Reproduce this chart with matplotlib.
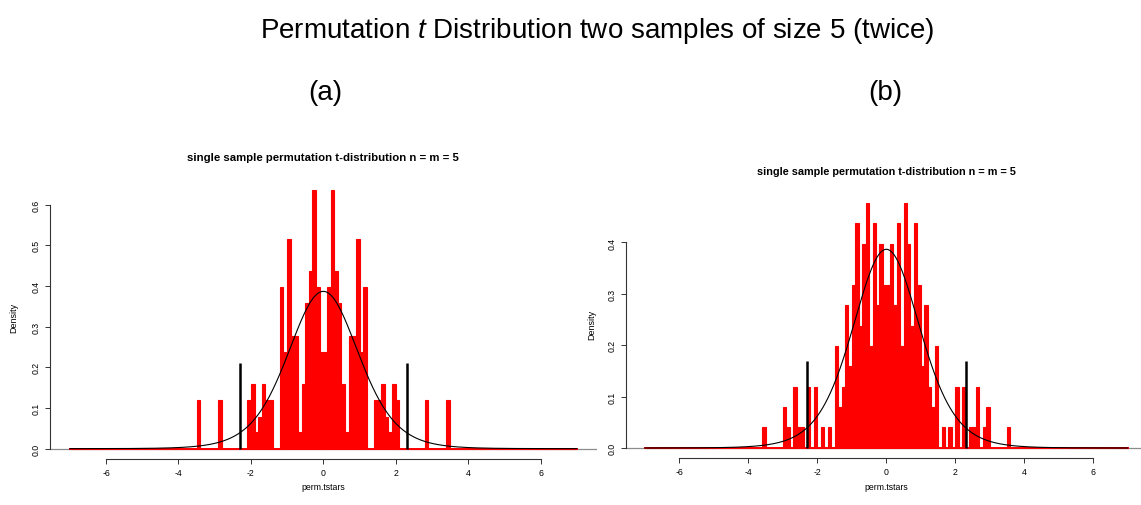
import math
import numpy as np
import matplotlib
matplotlib.use("Agg")
import matplotlib.pyplot as plt

plt.rcParams['font.family'] = ['Liberation Sans', 'DejaVu Sans']
plt.rcParams['mathtext.fontset'] = 'custom'
plt.rcParams['mathtext.it'] = 'Liberation Sans:italic'
plt.rcParams['mathtext.rm'] = 'Liberation Sans'
plt.rcParams['axes.unicode_minus'] = False

# histogram: bins of width 0.1 from -7 to 7, only non-empty bins listed
bin_width = 0.1
hist_lo, hist_hi = -7.0, 7.0

# (a) left bin edge -> density
a_lefts = [-3.5, -2.9, -2.1, -2.0, -1.9, -1.8, -1.7, -1.6, -1.5,
           -1.2, -1.1, -1.0, -0.9, -0.8, -0.7, -0.6, -0.5, -0.4, -0.3, -0.2, -0.1,
           0.0, 0.1, 0.2, 0.3, 0.4, 0.5, 0.6, 0.7, 0.8, 0.9, 1.0, 1.1,
           1.4, 1.5, 1.6, 1.7, 1.8, 1.9, 2.0, 2.8, 3.4]
a_density = [0.119, 0.119, 0.119, 0.159, 0.040, 0.079, 0.159, 0.119, 0.119,
             0.397, 0.238, 0.516, 0.278, 0.278, 0.040, 0.159, 0.357, 0.437, 0.635, 0.397, 0.238,
             0.238, 0.397, 0.635, 0.437, 0.357, 0.159, 0.040, 0.278, 0.278, 0.516, 0.238, 0.397,
             0.119, 0.119, 0.159, 0.079, 0.040, 0.159, 0.119, 0.119, 0.119]

# (b)
b_lefts = [-3.6, -3.0, -2.9, -2.7, -2.6, -2.5, -2.3, -2.1, -1.9, -1.7, -1.5, -1.4, -1.3,
           -1.2, -1.1, -1.0, -0.9, -0.8, -0.7, -0.6, -0.5, -0.4, -0.3, -0.2, -0.1,
           0.0, 0.1, 0.2, 0.3, 0.4, 0.5, 0.6, 0.7, 0.8, 0.9, 1.0, 1.1,
           1.2, 1.3, 1.4, 1.6, 1.8, 2.0, 2.2, 2.4, 2.5, 2.6, 2.8, 2.9, 3.5]
b_density = [0.040, 0.079, 0.040, 0.119, 0.040, 0.040, 0.119, 0.119, 0.040, 0.040, 0.198, 0.079, 0.119,
             0.278, 0.159, 0.317, 0.437, 0.238, 0.397, 0.476, 0.198, 0.437, 0.278, 0.397, 0.317,
             0.317, 0.397, 0.278, 0.437, 0.198, 0.476, 0.397, 0.238, 0.437, 0.317, 0.159, 0.278,
             0.119, 0.079, 0.198, 0.040, 0.040, 0.119, 0.119, 0.040, 0.040, 0.119, 0.040, 0.079, 0.040]

df = 8
t_crit = 2.306
a_crit_height = 0.21
b_crit_height = 0.17

W, H = 1141, 506


def px_axes(fig, x0, x1, ytop, ybot):
    return fig.add_axes([x0 / W, 1 - ybot / H, (x1 - x0) / W, (ybot - ytop) / H])


def t_pdf(x, k):
    c = math.exp(math.lgamma((k + 1) / 2) - math.lgamma(k / 2)) / math.sqrt(k * math.pi)
    return c * (1 + x ** 2 / k) ** (-(k + 1) / 2)


def draw_panel(ax, lefts, dens, crit_h, ymax, ytop_tick):
    breaks = np.round(np.arange(hist_lo, hist_hi + bin_width / 2, bin_width), 1)
    heights = np.zeros(len(breaks) - 1)
    for l, d in zip(lefts, dens):
        heights[int(round((l - hist_lo) / bin_width))] = d
    ax.axhline(0, color='#8c8c8c', lw=0.9, zorder=0)
    ax.plot([hist_lo, hist_hi], [0, 0], color='red', lw=1.4, zorder=1)
    ax.bar(breaks[:-1], heights, width=bin_width, align='edge',
           color='red', edgecolor='red', lw=0.8, zorder=1)
    xs = np.linspace(hist_lo, hist_hi, 600)
    ax.plot(xs, t_pdf(xs, df), color='black', lw=0.8, zorder=2)
    ax.vlines([-t_crit, t_crit], 0, crit_h, color='black', lw=1.8, zorder=3)

    pad = 0.04 * (hist_hi - hist_lo)
    ax.set_xlim(hist_lo - pad, hist_hi + pad)
    ax.set_ylim(-0.04 * ymax, ymax * 1.04)
    for s in ['top', 'right']:
        ax.spines[s].set_visible(False)
    ax.spines['left'].set_bounds(0, ytop_tick)
    ax.spines['bottom'].set_bounds(-6, 6)
    ax.spines['left'].set_color('#333333')
    ax.spines['bottom'].set_color('#333333')
    ax.set_xticks(np.arange(-6, 7, 2))
    yt = np.round(np.arange(0, ytop_tick + 0.01, 0.1), 1)
    ax.set_yticks(yt)
    ax.set_yticklabels([f"{v:.1f}" for v in yt], rotation=90, va='center')
    ax.tick_params(labelsize=6.3, length=3.5, width=0.7, color='#333333', pad=3)
    ax.set_facecolor('none')


fig = plt.figure(figsize=(W / 100, H / 100), dpi=100)

fig.text(597 / W, 1 - 31 / H, "Permutation $t$ Distribution two samples of size 5 (twice)",
         ha='center', va='center', fontsize=20)
fig.text(325 / W, 1 - 93 / H, "(a)", ha='center', va='center', fontsize=20)
fig.text(885 / W, 1 - 93 / H, "(b)", ha='center', va='center', fontsize=20)

# panel (a)
ax_a = px_axes(fig, 49.6, 597, 181, 460)
draw_panel(ax_a, a_lefts, a_density, a_crit_height, 0.635, 0.6)
fig.text(323 / W, 1 - 158 / H, "single sample permutation t-distribution n = m = 5",
         ha='center', va='center', fontsize=8.2, fontweight='bold')
fig.text(14 / W, 1 - 318 / H, "Density", rotation=90, ha='center', va='center', fontsize=6.5)
fig.text(323 / W, 1 - 488 / H, "perm.tstars", ha='center', va='center', fontsize=6.3)

# panel (b)
ax_b = px_axes(fig, 625.7, 1147, 194.6, 458.8)
draw_panel(ax_b, b_lefts, b_density, b_crit_height, 0.476, 0.4)
fig.text(886 / W, 1 - 172 / H, "single sample permutation t-distribution n = m = 5",
         ha='center', va='center', fontsize=7.8, fontweight='bold')
fig.text(592 / W, 1 - 325 / H, "Density", rotation=90, ha='center', va='center', fontsize=6.5)
fig.text(886 / W, 1 - 488 / H, "perm.tstars", ha='center', va='center', fontsize=6.3)

fig.savefig("out.png", dpi=100)
